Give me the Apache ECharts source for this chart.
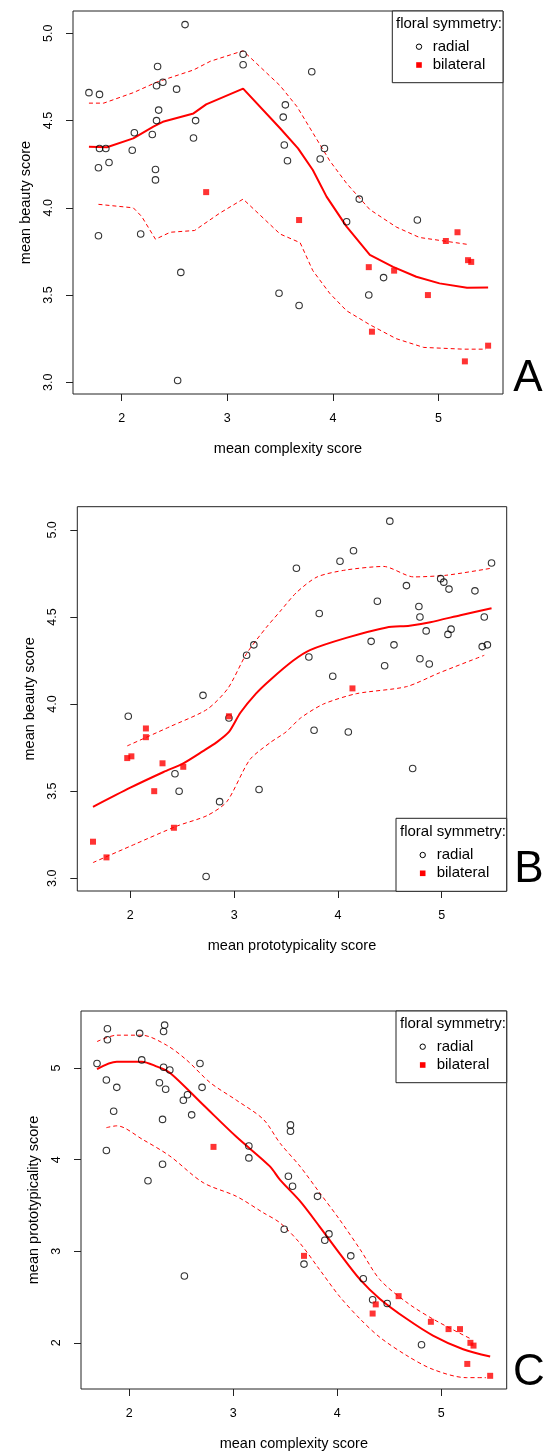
<!DOCTYPE html>
<html><head><meta charset="utf-8">
<script src="https://cdn.jsdelivr.net/npm/echarts@6/dist/echarts.min.js"></script>
<style>html,body{margin:0;padding:0;background:#fff}#c{width:547px;height:1452px}</style>
</head><body><div id="c"></div><script>
// ---------- Data ----------
// Panel A: complexity (x) vs beauty (y)
const aRadial = [[1.69,4.66],[1.79,4.65],[2.60,5.05],[2.34,4.81],[2.39,4.72],[2.33,4.70],[2.52,4.68],[3.15,4.88],[3.15,4.82],[2.35,4.56],[2.33,4.50],[2.70,4.50],[2.12,4.43],[2.29,4.42],[2.68,4.40],[1.79,4.34],[1.85,4.34],[2.10,4.33],[1.88,4.26],[1.78,4.23],[2.32,4.22],[2.32,4.16],[1.78,3.84],[2.18,3.85],[2.56,3.63],[2.53,3.01],[3.49,3.51],[3.55,4.59],[3.53,4.52],[3.54,4.36],[3.57,4.27],[3.80,4.78],[3.92,4.34],[3.88,4.28],[4.25,4.05],[4.13,3.92],[4.80,3.93],[3.68,3.44],[4.34,3.50],[4.48,3.60]];
const aBilateral = [[2.80,4.09],[3.68,3.93],[4.34,3.66],[4.58,3.64],[4.90,3.50],[4.37,3.29],[5.07,3.81],[5.18,3.86],[5.28,3.70],[5.31,3.69],[5.25,3.12],[5.47,3.21]];
const aFit = [[1.69,4.35],[1.86,4.347],[2.11,4.398],[2.30,4.465],[2.39,4.493],[2.68,4.541],[2.80,4.593],[3.15,4.683],[3.50,4.456],[3.67,4.341],[3.81,4.217],[3.94,4.064],[4.13,3.892],[4.35,3.730],[4.57,3.662],[4.79,3.605],[5.01,3.567],[5.27,3.542],[5.47,3.544]];
const aUpper = [[1.69,4.60],[1.83,4.60],[2.11,4.66],[2.33,4.72],[2.68,4.79],[2.84,4.84],[3.15,4.90],[3.50,4.70],[3.66,4.58],[3.81,4.43],[3.97,4.27],[4.13,4.14],[4.35,3.99],[4.60,3.89],[4.82,3.83],[5.05,3.81],[5.28,3.79]];
const aLower = [[1.78,4.02],[2.11,4.00],[2.19,3.95],[2.32,3.82],[2.46,3.86],[2.69,3.87],[2.93,3.97],[3.15,4.05],[3.50,3.85],[3.69,3.80],[3.81,3.64],[3.97,3.51],[4.13,3.41],[4.35,3.33],[4.60,3.25],[4.86,3.20],[5.23,3.19],[5.45,3.19]];

// Panel B: prototypicality (x) vs beauty (y)
const bRadial = [[1.98,3.93],[2.70,4.05],[3.12,4.28],[3.19,4.34],[2.95,3.92],[2.43,3.60],[2.47,3.50],[2.86,3.44],[3.24,3.51],[2.73,3.01],[4.50,5.05],[4.15,4.88],[4.02,4.82],[3.60,4.78],[5.48,4.81],[4.99,4.72],[5.02,4.70],[5.07,4.66],[4.66,4.68],[5.32,4.65],[4.38,4.59],[3.82,4.52],[4.78,4.56],[4.79,4.50],[5.41,4.50],[4.85,4.42],[5.09,4.43],[5.06,4.40],[4.32,4.36],[4.54,4.34],[5.39,4.33],[5.44,4.34],[3.72,4.27],[4.79,4.26],[4.88,4.23],[4.45,4.22],[3.95,4.16],[3.77,3.85],[4.10,3.84],[4.72,3.63]];
const bBilateral = [[2.95,3.93],[2.15,3.86],[2.15,3.81],[1.97,3.69],[2.01,3.70],[2.31,3.66],[2.51,3.64],[2.23,3.50],[2.42,3.29],[1.64,3.21],[1.77,3.12],[4.14,4.09]];
const bFit = [[1.64,3.41],[2.00,3.52],[2.32,3.61],[2.51,3.66],[2.70,3.73],[2.83,3.78],[2.95,3.84],[3.06,3.95],[3.21,4.06],[3.35,4.14],[3.57,4.25],[3.73,4.31],[4.08,4.38],[4.47,4.44],[4.69,4.45],[4.89,4.47],[5.18,4.51],[5.48,4.55]];
const bUpper = [[1.97,3.76],[2.38,3.87],[2.74,3.97],[2.94,4.09],[3.12,4.29],[3.31,4.44],[3.44,4.53],[3.60,4.64],[3.80,4.73],[4.08,4.77],[4.44,4.79],[4.73,4.73],[5.05,4.74],[5.48,4.78]];
const bLower = [[1.64,3.09],[2.06,3.20],[2.45,3.30],[2.74,3.36],[2.93,3.44],[3.15,3.68],[3.35,3.78],[3.50,3.84],[3.64,3.92],[3.86,4.00],[4.18,4.06],[4.66,4.10],[4.98,4.18],[5.41,4.28]];

// Panel C: complexity (x) vs prototypicality (y)
const cRadial = [[1.69,5.05],[1.79,5.43],[1.79,5.31],[2.10,5.38],[2.34,5.47],[2.33,5.40],[2.12,5.09],[2.68,5.05],[2.33,5.01],[2.39,4.98],[1.78,4.87],[1.88,4.79],[2.29,4.84],[2.35,4.77],[2.70,4.79],[2.56,4.71],[2.52,4.65],[2.60,4.49],[1.85,4.53],[2.32,4.44],[1.78,4.10],[2.32,3.95],[2.18,3.77],[2.53,2.73],[3.15,4.15],[3.15,4.02],[3.49,3.24],[3.55,4.38],[3.55,4.31],[3.53,3.82],[3.57,3.71],[3.81,3.60],[3.88,3.12],[3.92,3.19],[3.68,2.86],[4.13,2.95],[4.25,2.70],[4.34,2.47],[4.48,2.43],[4.81,1.98]];
const cBilateral = [[2.81,4.14],[3.68,2.95],[4.37,2.42],[4.34,2.32],[4.59,2.51],[4.90,2.23],[5.07,2.15],[5.18,2.15],[5.28,2.00],[5.31,1.97],[5.25,1.77],[5.47,1.64]];
const cFit = [[1.69,4.99],[1.88,5.07],[2.12,5.07],[2.26,5.02],[2.39,4.95],[2.71,4.60],[3.03,4.25],[3.35,3.93],[3.45,3.78],[3.64,3.55],[3.83,3.27],[4.02,2.98],[4.22,2.69],[4.41,2.48],[4.67,2.26],[4.92,2.08],[5.21,1.93],[5.47,1.85]];
const cUpper = [[1.69,5.29],[1.88,5.36],[2.12,5.36],[2.36,5.25],[2.55,5.09],[2.78,4.84],[3.03,4.65],[3.29,4.44],[3.45,4.18],[3.64,3.93],[3.83,3.64],[4.02,3.35],[4.22,3.02],[4.41,2.69],[4.67,2.44],[4.92,2.26],[5.29,2.04]];
const cLower = [[1.78,4.35],[1.88,4.37],[2.13,4.22],[2.39,4.04],[2.71,3.75],[3.03,3.60],[3.29,3.42],[3.45,3.31],[3.64,3.09],[3.83,2.80],[4.02,2.51],[4.22,2.26],[4.41,2.06],[4.67,1.86],[4.92,1.71],[5.24,1.62],[5.43,1.62]];

// Tick labels
const xTicks = [2, 3, 4, 5];
const beautyTicks = [3.0, 3.5, 4.0, 4.5, 5.0];
const protoTicks = [2, 3, 4, 5];
const panelLetters = ['A', 'B', 'C'];
const legendTitle = 'floral symmetry:';
const legendNames = ['radial', 'bilateral'];

// ---------- Chart ----------
const FONT = '"Liberation Sans", Arial, Helvetica, sans-serif';
const INK = '#000';
const BOX = '#222';

const grids = [
  {left: 73, top: 11, width: 430, height: 383},
  {left: 77.3, top: 506.7, width: 429.4, height: 384.3},
  {left: 81, top: 1011, width: 425.7, height: 379}
];

function xAxisDef(i, name, min, max) {
  return {
    gridIndex: i, type: 'value', min: min, max: max,
    axisLine: {show: false},
    axisTick: {show: true, length: 7, customValues: xTicks, lineStyle: {color: BOX, width: 1}},
    axisLabel: {customValues: xTicks, margin: 18, fontSize: 12.5, color: INK, fontFamily: FONT},
    splitLine: {show: false},
    name: name, nameLocation: 'middle', nameGap: 47,
    nameTextStyle: {fontSize: 14.5, color: INK, fontFamily: FONT}
  };
}
function yAxisDef(i, name, min, max, ticks, fmt) {
  return {
    gridIndex: i, type: 'value', min: min, max: max,
    axisLine: {show: false},
    axisTick: {show: true, length: 7, customValues: ticks, lineStyle: {color: BOX, width: 1}},
    axisLabel: {customValues: ticks, margin: 18, rotate: 90, fontSize: 12.5, color: INK, fontFamily: FONT,
      formatter: v => fmt ? Number(v).toFixed(1) : String(v)},
    splitLine: {show: false},
    name: name, nameLocation: 'middle', nameGap: 40, nameRotate: 90,
    nameTextStyle: {fontSize: 14.5, color: INK, fontFamily: FONT}
  };
}

function panelSeries(i, radial, bilateral, fit, upper, lower, smooth) {
  const base = {xAxisIndex: i, yAxisIndex: i};
  return [
    Object.assign({type: 'line', data: upper, showSymbol: false, smooth: smooth, silent: true,
      lineStyle: {color: '#ff0000', width: 1, type: [4, 3]}, z: 2}, base),
    Object.assign({type: 'line', data: lower, showSymbol: false, smooth: smooth, silent: true,
      lineStyle: {color: '#ff0000', width: 1, type: [4, 3]}, z: 2}, base),
    Object.assign({type: 'line', data: fit, showSymbol: false, smooth: smooth, silent: true,
      lineStyle: {color: '#ff0000', width: 2}, z: 3}, base),
    Object.assign({type: 'scatter', name: legendNames[0], data: radial, symbol: 'circle', symbolSize: 6.5,
      itemStyle: {color: 'rgba(255,255,255,0)', borderColor: '#000', borderWidth: 1.1}, z: 4}, base),
    Object.assign({type: 'scatter', name: legendNames[1], data: bilateral, symbol: 'rect', symbolSize: 6,
      itemStyle: {color: '#ff0000'}, z: 5}, base)
  ];
}

function legendGraphic(x0, y0, x1, y1, titleX, titleY, symX, textX, r1Y, r2Y) {
  return [
    {type: 'rect', shape: {x: x0, y: y0, width: x1 - x0, height: y1 - y0},
      style: {fill: '#fff', stroke: BOX, lineWidth: 1}, z: 10},
    {type: 'text', x: titleX, y: titleY, style: {text: legendTitle, font: '15px ' + FONT, fill: INK,
      textVerticalAlign: 'middle', textAlign: 'left'}, z: 11},
    {type: 'circle', shape: {cx: symX, cy: r1Y, r: 2.7}, style: {fill: 'none', stroke: '#000', lineWidth: 1}, z: 11},
    {type: 'text', x: textX, y: r1Y, style: {text: legendNames[0], font: '15px ' + FONT, fill: INK,
      textVerticalAlign: 'middle', textAlign: 'left'}, z: 11},
    {type: 'rect', shape: {x: symX - 2.8, y: r2Y - 2.8, width: 5.6, height: 5.6}, style: {fill: '#ff0000'}, z: 11},
    {type: 'text', x: textX, y: r2Y, style: {text: legendNames[1], font: '15px ' + FONT, fill: INK,
      textVerticalAlign: 'middle', textAlign: 'left'}, z: 11}
  ];
}

function letter(t, x, y) {
  return {type: 'text', x: x, y: y, style: {text: t, font: '44px ' + FONT, fill: INK,
    textAlign: 'center', textVerticalAlign: 'middle'}, z: 11};
}

const option = {
  backgroundColor: '#fff',
  animation: false,
  grid: grids.map(g => Object.assign({show: true, borderColor: BOX, borderWidth: 1,
    backgroundColor: 'transparent', containLabel: false}, g)),
  xAxis: [
    xAxisDef(0, 'mean complexity score', 1.539, 5.611),
    xAxisDef(1, 'mean prototypicality score', 1.489, 5.626),
    xAxisDef(2, 'mean complexity score', 1.536, 5.629)
  ],
  yAxis: [
    yAxisDef(0, 'mean beauty score', 2.933, 5.128, beautyTicks, true),
    yAxisDef(1, 'mean beauty score', 2.927, 5.133, beautyTicks, true),
    yAxisDef(2, 'mean prototypicality score', 1.496, 5.624, protoTicks, false)
  ],
  series: [].concat(
    panelSeries(0, aRadial, aBilateral, aFit, aUpper, aLower, false),
    panelSeries(1, bRadial, bBilateral, bFit, bUpper, bLower, 0.25),
    panelSeries(2, cRadial, cBilateral, cFit, cUpper, cLower, 0.3)
  ),
  graphic: [].concat(
    legendGraphic(392.3, 11, 503, 82.7, 396, 23.5, 419, 432.7, 46.7, 65),
    legendGraphic(396, 818.3, 506.7, 891.3, 400, 831.7, 422.7, 436.7, 855, 873.3),
    legendGraphic(396, 1011, 506.7, 1082.7, 400, 1024, 422.7, 436.7, 1046.7, 1065),
    [letter(panelLetters[0], 528, 379), letter(panelLetters[1], 529, 870), letter(panelLetters[2], 529, 1373)]
  )
};

const chart = echarts.init(document.getElementById('c'), null, {renderer: 'canvas'});
chart.setOption(option);
</script></body></html>
